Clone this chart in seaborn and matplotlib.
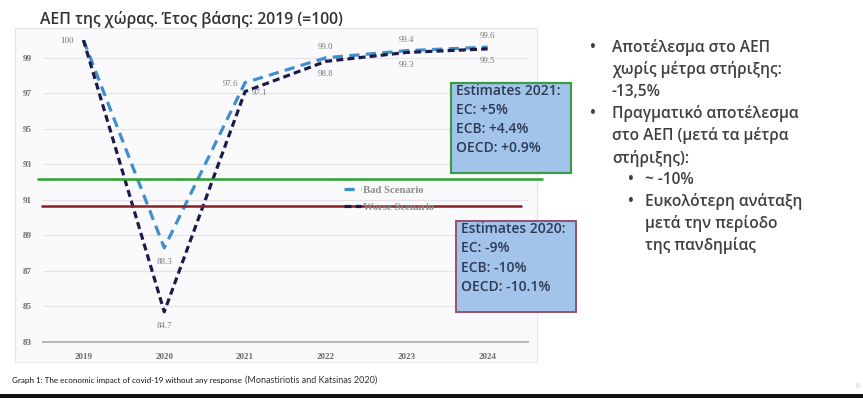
import numpy as np
import pandas as pd
import matplotlib.pyplot as plt
import seaborn as sns
from matplotlib.patches import Rectangle

# data
years = ['2019', '2020', '2021', '2022', '2023', '2024']
bad_scenario = [100, 88.3, 97.6, 99.0, 99.4, 99.6]
worse_scenario = [100, 84.7, 97.1, 98.8, 99.3, 99.5]
y_ticks = [83, 85, 87, 89, 91, 93, 95, 97, 99]
green_level = 92.15
red_level = 90.65

title = 'ΑΕΠ της χώρας. Έτος βάσης: 2019 (=100)'
box_2021 = ['Estimates 2021:', 'EC: +5%', 'ECB: +4.4%', 'OECD: +0.9%']
box_2020 = ['Estimates 2020:', 'EC: -9%', 'ECB: -10%', 'OECD: -10.1%']
bullets = [
    (0, ['Αποτέλεσμα στο ΑΕΠ', 'χωρίς μέτρα στήριξης:', '-13,5%']),
    (0, ['Πραγματικό αποτέλεσμα', 'στο ΑΕΠ (μετά τα μέτρα', 'στήριξης):']),
    (1, ['~ -10%']),
    (1, ['Ευκολότερη ανάταξη', 'μετά την περίοδο', 'της πανδημίας']),
]
caption = 'Graph 1: The economic impact of covid-19 without any response'
source = '(Monastiriotis and Katsinas 2020)'

df = pd.DataFrame({
    'year': years * 2,
    'value': bad_scenario + worse_scenario,
    'scenario': ['Bad Scenario'] * 6 + ['Worse Scenario'] * 6,
})

sns.set_style('white')
W, H = 863, 398
fig = plt.figure(figsize=(W / 100, H / 100), dpi=100)


def fx(x):
    return x / W


def fy(y):
    return 1 - y / H


# light chart "image" background (behind the axes)
fig.patches.append(Rectangle((fx(15), fy(362)), fx(537) - fx(15), fy(28) - fy(362),
                             transform=fig.transFigure, facecolor='#fafafc',
                             edgecolor='#e6e6ea', lw=0.8, zorder=-5))

ax = fig.add_axes([fx(43), fy(342), fx(528) - fx(43), fy(40) - fy(342)])
ax.set_facecolor('#fafafc')

palette = {'Bad Scenario': '#3f8fce', 'Worse Scenario': '#1c1c4c'}
dashes = {'Bad Scenario': (3.2, 2.0), 'Worse Scenario': (2.2, 1.3)}
sns.lineplot(data=df, x='year', y='value', hue='scenario', style='scenario',
             palette=palette, dashes=dashes, lw=2.3, sort=False, ax=ax)

ax.set_xlim(-0.5, 5.5)
ax.set_ylim(83, 100)
ax.set_yticks(y_ticks)
ax.set_xlabel('')
ax.set_ylabel('')
ax.grid(axis='y', color='#e4e4e4', lw=0.9)
for s in ['left', 'right', 'top']:
    ax.spines[s].set_visible(False)
ax.spines['bottom'].set_color('#b0b0b0')
ax.spines['bottom'].set_linewidth(1.3)
ax.tick_params(length=0, pad=8)
for lab in ax.get_xticklabels() + ax.get_yticklabels():
    lab.set_fontfamily('Liberation Serif')
    lab.set_fontsize(6.5)
    lab.set_fontweight('bold')
    lab.set_color('#6a6a6a')
ax.tick_params(axis='y', pad=8)

# point labels
lab_kw = dict(textcoords='offset points', fontsize=6.5, color='#7a7a7a',
              family='Liberation Serif', va='center')
for i, v in enumerate(bad_scenario):
    if i == 0:
        ax.annotate('100', (i, v), xytext=(-7, -1), ha='right', **lab_kw)
    elif i == 1:
        ax.annotate(f'{v:.1f}', (i, v), xytext=(0, -10), ha='center', **lab_kw)
    elif i == 2:
        ax.annotate(f'{v:.1f}', (i, v), xytext=(-5, -1), ha='right', **lab_kw)
    else:
        ax.annotate(f'{v:.1f}', (i, v), xytext=(0, 8), ha='center', **lab_kw)
for i, v in enumerate(worse_scenario):
    if i == 0:
        continue
    elif i == 1:
        ax.annotate(f'{v:.1f}', (i, v), xytext=(0, -10), ha='center', **lab_kw)
    elif i == 2:
        ax.annotate(f'{v:.1f}', (i, v), xytext=(5, -1), ha='left', **lab_kw)
    else:
        ax.annotate(f'{v:.1f}', (i, v), xytext=(0, -9), ha='center', **lab_kw)

leg = ax.legend(loc='center left', bbox_to_anchor=(0.6, 0.475), frameon=False,
                handlelength=1.6, handletextpad=0.2, labelspacing=0.75,
                prop={'family': 'Liberation Serif', 'size': 7.7, 'weight': 'bold'})
for t in leg.get_texts():
    t.set_color('#8a8a8a')

# slide annotation lines drawn over the chart
ax.hlines(green_level, -0.57, 5.68, color='#2ea02e', lw=1.8, clip_on=False, zorder=5)
ax.hlines(red_level, -0.53, 5.43, color='#8b1f24', lw=1.8, clip_on=False, zorder=5)

# estimate boxes
box_kw = dict(fontsize=10, fontweight='semibold', color='#2d3a55', family='Open Sans',
              va='center', ha='left')
fig.patches.append(Rectangle((fx(451), fy(173)), fx(571) - fx(451), fy(83) - fy(173),
                             transform=fig.transFigure, facecolor='#a3c4ea',
                             edgecolor='#3c9a4a', lw=1.6, zorder=6))
for k, line in enumerate(box_2021):
    fig.text(fx(456), fy(91 + 19 * k), line, zorder=7, **box_kw)
fig.patches.append(Rectangle((fx(456), fy(312)), fx(576) - fx(456), fy(221) - fy(312),
                             transform=fig.transFigure, facecolor='#a3c4ea',
                             edgecolor='#9a5068', lw=1.4, zorder=6))
for k, line in enumerate(box_2020):
    fig.text(fx(461), fy(229 + 19.3 * k), line, zorder=7, **box_kw)

# title
fig.text(fx(40), fy(20), title, fontsize=11.3, fontweight='semibold',
         family='Open Sans', color='#333333', va='center')

# bullets on the right
bul_kw = dict(fontsize=11.2, fontweight='semibold', family='Open Sans',
              color='#404040', va='center')
row = 0
for level, lines in bullets:
    bx = 590 if level == 0 else 628
    tx = 612 if level == 0 else 645
    fig.text(fx(bx), fy(48 + 22 * row), '•', **bul_kw)
    for line in lines:
        fig.text(fx(tx), fy(48 + 22 * row), line, **bul_kw)
        row += 1

# caption
fig.text(fx(12), fy(380), caption, fontsize=5.8, family='Lato',
         color='#111111', va='center')
fig.text(fx(245), fy(380), source, fontsize=6.5, family='Lato',
         color='#333333', va='center')
fig.text(fx(855), fy(386), '6', fontsize=5, color='#cccccc', va='center')
fig.patches.append(Rectangle((0, 0), 1, fy(394), transform=fig.transFigure,
                             facecolor='#111111', edgecolor='none'))

fig.savefig('out.png', dpi=100)
